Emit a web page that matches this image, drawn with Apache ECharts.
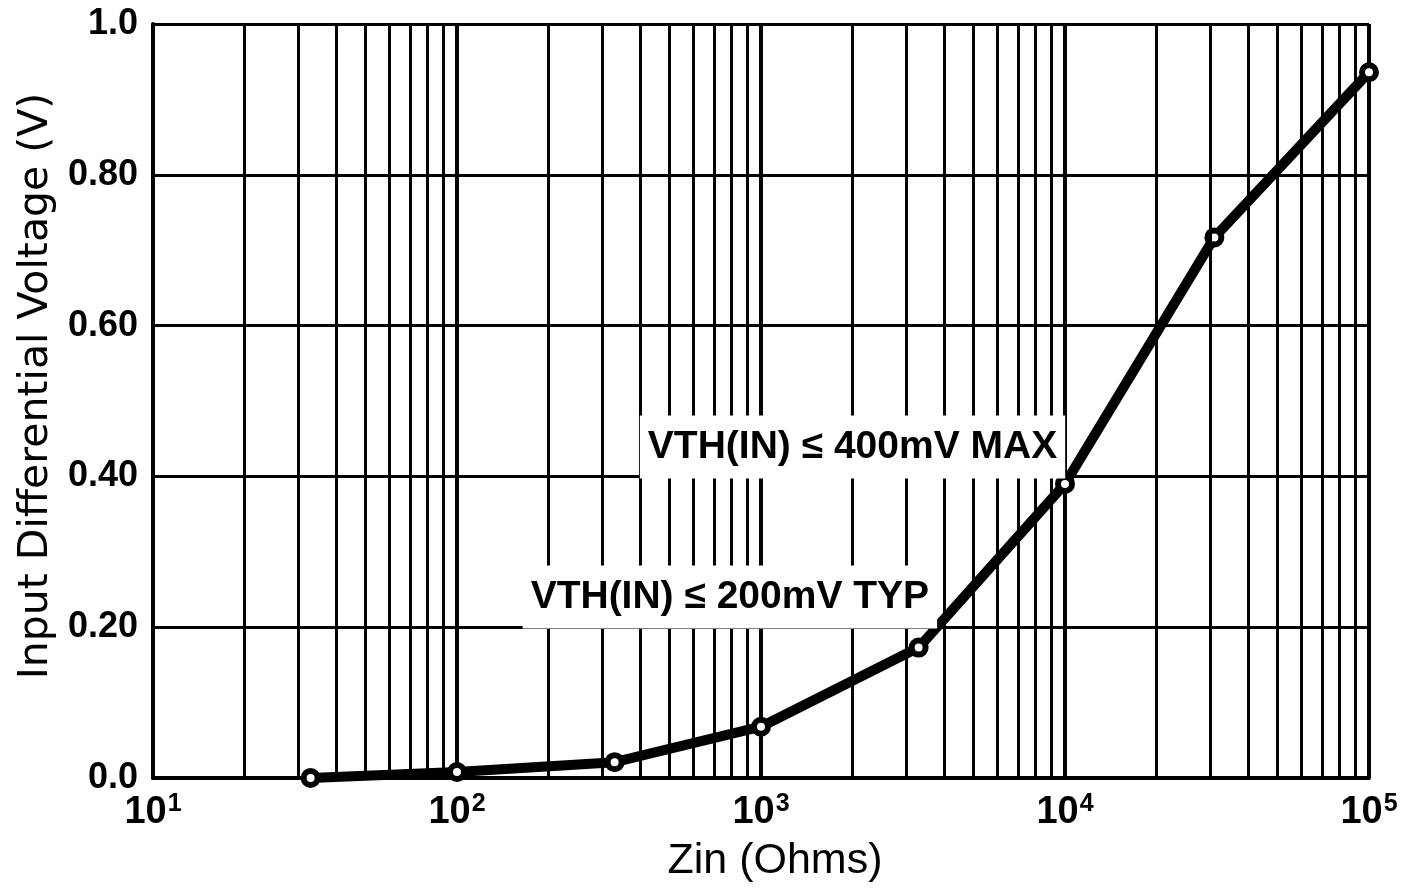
<!DOCTYPE html>
<html>
<head>
<meta charset="utf-8">
<script src="https://cdn.jsdelivr.net/npm/echarts@6/dist/echarts.min.js"></script>
<style>
html,body{margin:0;padding:0;background:#fff;}
#chart{width:1417px;height:891px;}
</style>
</head>
<body>
<div id="chart"></div>
<script>
// Data
const zinOhms = [33, 100, 330, 1000, 3300, 10000, 31000, 100000];
const voltage = [0.0, 0.008, 0.021, 0.068, 0.173, 0.390, 0.717, 0.936];
const yTicks = [0, 0.2, 0.4, 0.6, 0.8, 1.0];
const yTickLabels = ['0.0', '0.20', '0.40', '0.60', '0.80', '1.0'];
const decades = [10, 100, 1000, 10000, 100000];
const minorMultipliers = [2, 3, 4, 5, 6, 7, 8, 9];
const annotationText = ['VTH(IN) \u2264 400mV MAX', 'VTH(IN) \u2264 200mV TYP'];
const annotationX = [2000, 790];
const annotationY = [0.439, 0.240];

const minorGrid = [];
decades.slice(0, -1).forEach(d => minorMultipliers.forEach(m => minorGrid.push(m * d)));

const chart = echarts.init(document.getElementById('chart'));
const black = '#000';
const tickFont = 'Liberation Sans';

chart.setOption({
  animation: false,
  backgroundColor: '#fff',
  grid: { left: 153, right: 48, top: 24, bottom: 113, containLabel: false },
  xAxis: {
    type: 'log', logBase: 10, min: decades[0], max: decades[decades.length - 1],
    splitNumber: 4,
    axisLine: { show: true, lineStyle: { color: black, width: 4 } },
    axisTick: { show: false },
    splitLine: { show: true, lineStyle: { color: black, width: 4 } },
    axisLabel: {
      margin: 14,
      formatter: v => '{b|10}{s|' + Math.round(Math.log10(v)) + '}',
      rich: {
        b: { fontFamily: tickFont, fontWeight: 'bold', fontSize: 38, color: black, lineHeight: 40, verticalAlign: 'bottom' },
        s: { fontFamily: tickFont, fontWeight: 'bold', fontSize: 25, color: black, lineHeight: 40, verticalAlign: 'top', padding: [0, 0, 14, 1] }
      }
    },
    name: 'Zin (Ohms)', nameLocation: 'middle', nameGap: 62,
    nameTextStyle: { fontFamily: tickFont, fontSize: 43, color: black, padding: [0, 0, 0, 28] }
  },
  yAxis: {
    type: 'value', min: yTicks[0], max: yTicks[yTicks.length - 1], interval: 0.2,
    axisLine: { show: true, lineStyle: { color: black, width: 4 } },
    axisTick: { show: false },
    splitLine: { show: true, lineStyle: { color: black, width: 3 } },
    axisLabel: {
      margin: 15, fontFamily: tickFont, fontWeight: 'bold', fontSize: 36, color: black,
      formatter: v => { const i = yTicks.findIndex(t => Math.abs(t - v) < 1e-9); return i >= 0 ? yTickLabels[i] : ''; }
    },
    name: 'Input Differential Voltage (V)', nameLocation: 'middle', nameGap: 96,
    nameTextStyle: { fontFamily: 'DejaVu Sans', fontSize: 41, color: black, padding: [0, 0, 0, 30] }
  },
  series: [
    {
      type: 'line', z: 1, silent: true, data: [],
      markLine: {
        silent: true, symbol: ['none', 'none'], animation: false,
        label: { show: false },
        lineStyle: { color: black, width: 3, type: 'solid' },
        emphasis: { disabled: true },
        data: minorGrid.map(v => ({ xAxis: v }))
      }
    },
    {
      type: 'line', z: 2, silent: true, data: [],
      markPoint: {
        silent: true, symbol: 'rect', symbolSize: 1,
        itemStyle: { color: 'rgba(0,0,0,0)' },
        label: {
          show: true, position: 'inside', color: black, fontFamily: tickFont, fontWeight: 'bold', fontSize: 39,
          backgroundColor: '#fff', padding: [12, 8, 12, 8]
        },
        data: annotationText.map((t, i) => ({ coord: [annotationX[i], annotationY[i]], label: { formatter: t } }))
      }
    },
    {
      type: 'line', z: 3,
      data: zinOhms.map((x, i) => [x, voltage[i]]),
      lineStyle: { color: black, width: 10 },
      symbol: 'circle', symbolSize: 14,
      itemStyle: { color: '#fff', borderColor: black, borderWidth: 6 },
      emphasis: { disabled: true }
    }
  ]
});
</script>
</body>
</html>
